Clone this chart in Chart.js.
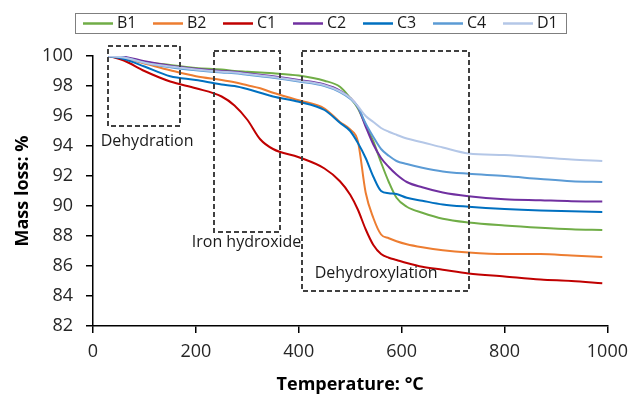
<!DOCTYPE html>
<html>
<head>
<meta charset="utf-8">
<script src="https://cdn.jsdelivr.net/npm/chart.js@4/dist/chart.umd.min.js"></script>
<style>
  html, body { margin: 0; padding: 0; background: #fff; }
  #wrap { width: 636px; height: 396px; }
</style>
</head>
<body>
<div id="wrap"><canvas id="c" width="636" height="396"></canvas></div>
<script>
// ---- data ----
const temps = [30, 60, 100, 150, 200, 250, 275, 300, 325, 350, 400, 450, 480, 500, 515, 530, 545, 560, 575, 590, 610, 640, 680, 730, 800, 870, 930, 990];
const seriesNames = ['B1', 'B2', 'C1', 'C2', 'C3', 'C4', 'D1'];
const B1 = [100, 99.9, 99.6, 99.4, 99.2, 99.1, 99.0, 98.95, 98.9, 98.85, 98.7, 98.35, 97.95, 97.2, 96.5, 95.4, 94.3, 92.9, 91.6, 90.55, 89.95, 89.55, 89.15, 88.9, 88.7, 88.55, 88.45, 88.4];
const B2 = [100, 99.85, 99.5, 99.05, 98.65, 98.4, 98.25, 98.05, 97.85, 97.55, 97.05, 96.5, 95.6, 95.1, 94.3, 90.9, 89.2, 88.1, 87.85, 87.65, 87.45, 87.25, 87.05, 86.9, 86.8, 86.8, 86.7, 86.6];
const C1 = [100, 99.7, 99.0, 98.3, 97.85, 97.3, 96.7, 95.75, 94.45, 93.8, 93.25, 92.5, 91.65, 90.75, 89.75, 88.45, 87.4, 86.8, 86.55, 86.4, 86.2, 85.95, 85.75, 85.5, 85.3, 85.1, 85.0, 84.85];
const C2 = [100, 99.95, 99.65, 99.35, 99.15, 99.0, 98.95, 98.85, 98.75, 98.65, 98.4, 98.1, 97.7, 97.2, 96.6, 95.3, 94.1, 93.2, 92.6, 92.1, 91.6, 91.25, 90.9, 90.65, 90.45, 90.38, 90.32, 90.3];
const C3 = [100, 99.8, 99.3, 98.65, 98.4, 98.1, 98.0, 97.8, 97.55, 97.3, 96.95, 96.4, 95.55, 95.0, 94.2, 93.2, 91.95, 91.0, 90.85, 90.8, 90.55, 90.35, 90.1, 89.95, 89.8, 89.7, 89.65, 89.6];
const C4 = [100, 99.9, 99.55, 99.25, 99.05, 98.9, 98.85, 98.75, 98.65, 98.55, 98.3, 98.0, 97.6, 97.15, 96.6, 95.5, 94.6, 93.8, 93.35, 93.0, 92.8, 92.55, 92.3, 92.15, 92.0, 91.8, 91.65, 91.6];
const D1 = [100, 99.9, 99.55, 99.3, 99.1, 98.95, 98.9, 98.8, 98.7, 98.6, 98.35, 98.05, 97.65, 97.2, 96.65, 96.0, 95.6, 95.2, 94.95, 94.75, 94.5, 94.25, 93.9, 93.5, 93.4, 93.25, 93.1, 93.0];
const xTicks = [0, 200, 400, 600, 800, 1000];
const yTicks = [82, 84, 86, 88, 90, 92, 94, 96, 98, 100];
// annotation regions (data space: temperature from/to, mass from/to)
const regionLabels = ['Dehydration', 'Iron hydroxide', 'Dehydroxylation'];
const regionT = [[29, 169], [235, 364], [406, 731]];
const regionM = [[100.65, 95.3], [100.35, 88.25], [100.35, 84.35]];
const regionLabelAt = [[15, 94.3], [192, 87.6], [431, 85.5]];

const colors = ['#70ad47', '#ed7d31', '#c00000', '#7030a0', '#0070c0', '#5b9bd5', '#b4c7e7'];
const allSeries = [B1, B2, C1, C2, C3, C4, D1];

const FONT = "'Open Sans', 'Liberation Sans', sans-serif";

const datasets = allSeries.map((vals, i) => ({
  label: seriesNames[i],
  data: temps.map((t, k) => ({ x: t, y: vals[k] })),
  borderColor: colors[i],
  backgroundColor: colors[i],
  borderWidth: 2,
  pointRadius: 0,
  cubicInterpolationMode: 'monotone',
  fill: false,
  order: allSeries.length - i
}));

const overlayPlugin = {
  id: 'overlay',
  afterDatasetsDraw(chart) {
    const ctx = chart.ctx;
    const xs = chart.scales.x, ys = chart.scales.y;
    ctx.save();
    ctx.strokeStyle = '#404040';
    ctx.lineWidth = 2;
    ctx.setLineDash([5, 3]);
    regionT.forEach((tr, i) => {
      const x0 = xs.getPixelForValue(tr[0]), x1 = xs.getPixelForValue(tr[1]);
      const y0 = ys.getPixelForValue(regionM[i][0]), y1 = ys.getPixelForValue(regionM[i][1]);
      ctx.strokeRect(Math.round(x0), Math.round(y0), Math.round(x1 - x0), Math.round(y1 - y0));
    });
    ctx.setLineDash([]);
    ctx.fillStyle = '#1a1a1a';
    ctx.font = '16px ' + FONT;
    ctx.textAlign = 'left';
    ctx.textBaseline = 'middle';
    regionLabels.forEach((lab, i) => {
      ctx.fillText(lab, xs.getPixelForValue(regionLabelAt[i][0]), ys.getPixelForValue(regionLabelAt[i][1]));
    });
    ctx.restore();
  },
  afterDraw(chart) {
    const ctx = chart.ctx;
    ctx.save();
    ctx.strokeStyle = '#7f7f7f';
    ctx.lineWidth = 1;
    ctx.strokeRect(75.5, 13.5, 491, 20);
    ctx.font = '16px ' + FONT;
    ctx.textBaseline = 'middle';
    ctx.textAlign = 'left';
    chart.data.datasets.forEach((ds, i) => {
      const x = 83 + i * 70;
      const y = 23.5;
      ctx.strokeStyle = ds.borderColor;
      ctx.lineWidth = 2.5;
      ctx.beginPath();
      ctx.moveTo(x, y);
      ctx.lineTo(x + 30, y);
      ctx.stroke();
      ctx.fillStyle = '#1a1a1a';
      ctx.fillText(ds.label, x + 34, y);
    });
    ctx.restore();
  }
};

new Chart(document.getElementById('c'), {
  type: 'line',
  data: { datasets },
  plugins: [overlayPlugin],
  options: {
    responsive: false,
    animation: false,
    devicePixelRatio: 1,
    layout: { padding: { top: 56, right: 23, left: 0, bottom: 0 } },
    plugins: { legend: { display: false }, tooltip: { enabled: false } },
    scales: {
      x: {
        type: 'linear',
        min: 0, max: 1000,
        afterFit(s) { s.height = 70; },
        afterBuildTicks(s) { s.ticks = xTicks.map(v => ({ value: v })); },
        grid: { display: true, drawOnChartArea: false, drawTicks: true, tickLength: 7, color: '#000', lineWidth: 1.5 },
        border: { display: true, color: '#000', width: 1.5 },
        ticks: { font: { family: FONT, size: 18 }, color: '#262626', padding: 8, maxRotation: 0, callback: v => String(v) },
        title: { display: true, text: 'Temperature: °C', font: { family: FONT, size: 18, weight: 'bold' }, color: '#000', padding: { top: 2, bottom: 0 } }
      },
      y: {
        min: 82, max: 100,
        afterFit(s) { s.width = 93; },
        afterBuildTicks(s) { s.ticks = yTicks.map(v => ({ value: v })); },
        grid: { display: true, drawOnChartArea: false, drawTicks: true, tickLength: 7, color: '#000', lineWidth: 1.5 },
        border: { display: true, color: '#000', width: 1.5 },
        ticks: { font: { family: FONT, size: 18 }, color: '#262626', padding: 13, callback: v => String(v) },
        title: { display: true, text: 'Mass loss: %', font: { family: FONT, size: 18, weight: 'bold' }, color: '#000', padding: { top: 12, bottom: 0 } }
      }
    }
  }
});
</script>
</body>
</html>
